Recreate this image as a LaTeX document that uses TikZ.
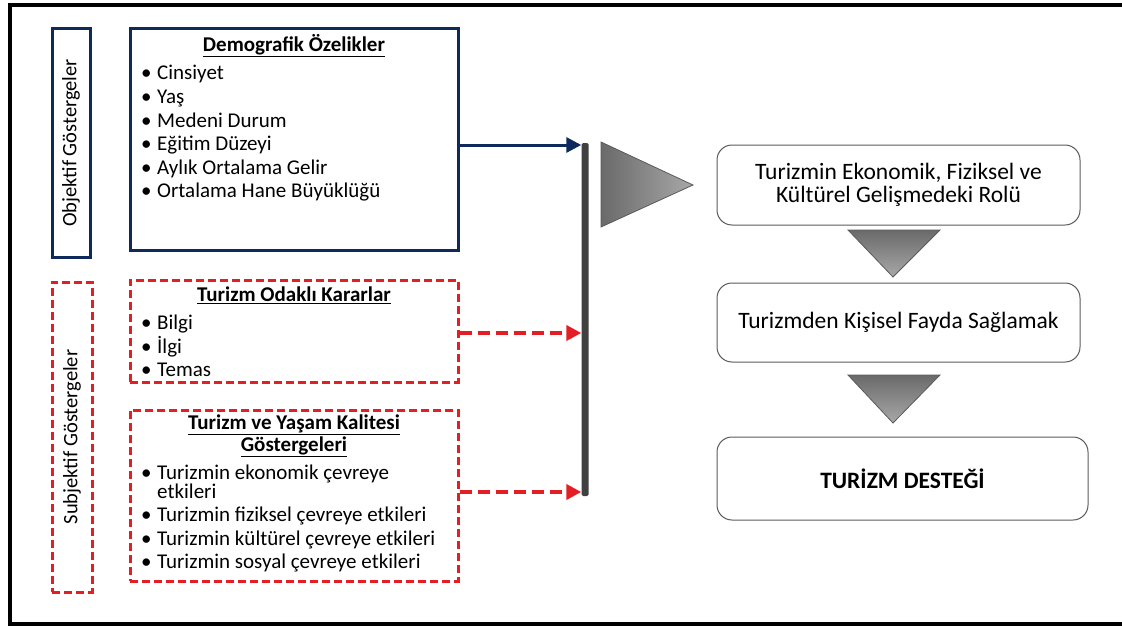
\documentclass[tikz,border=0pt]{standalone}
\usepackage{fontspec}
\setmainfont{Carlito}
\usetikzlibrary{arrows.meta}
\definecolor{navy}{HTML}{0E2A5C}
\definecolor{redd}{HTML}{E31E24}
\definecolor{bargray}{HTML}{404040}
\definecolor{edgegray}{HTML}{5A5A5A}
\definecolor{tridark}{HTML}{6A6A6A}
\definecolor{trilight}{HTML}{A8A8A8}
\newcommand{\bitem}[1]{\makebox[16pt][l]{•}#1}
\begin{document}
\begin{tikzpicture}[x=1pt,y=-1pt,
  itm/.style={anchor=base west, inner sep=0pt, font=\fontsize{21}{23}\selectfont},
  ttl/.style={anchor=base, inner sep=0pt, font=\fontsize{21}{22}\selectfont\bfseries},
  solidbox/.style={draw=navy, line width=3pt, inner sep=0pt},
  dashbox/.style={draw=redd, line width=3pt, dash pattern=on 8pt off 4pt, inner sep=0pt},
  sidelabel/.style={rotate=90, inner sep=0pt, font=\fontsize{20.5}{23}\selectfont},
  roundbox/.style={draw=edgegray, line width=1pt, rounded corners=15pt, align=center, inner sep=0pt, font=\fontsize{23.5}{22.5}\selectfont},
  bluearrow/.style={navy, line width=3pt, -{Triangle[length=15pt,width=15pt]}},
  redarrow/.style={redd, line width=4pt, dash pattern=on 12pt off 6pt, -{Triangle[length=15pt,width=15pt]}},
  downtri/.style={draw=edgegray, line width=0.8pt, top color=tridark, bottom color=trilight}
]
\useasboundingbox (0,0) rectangle (1122,626);
\clip (0,0) rectangle (1122,626);
% outer frame
\draw[line width=3.5pt] (1140,5) -- (10,5) -- (10,624) -- (1140,624);

% objective
\node[solidbox, minimum width=38pt, minimum height=228pt] (obj) at (71,143) {};
\node[sidelabel] (objl) at (obj.center) {Objektif Göstergeler};
\node[solidbox, minimum width=328pt, minimum height=221pt] (demo) at (294,139.5) {};
\node[ttl] (demot) at (294,51.5) {\underline{Demografik Özelikler}};
\foreach \t/\y [count=\i] in {Cinsiyet/79.5, Yaş/103, Medeni Durum/127, Eğitim Düzeyi/150, Aylık Ortalama Gelir/174, Ortalama Hane Büyüklüğü/197}
  \node[itm] (demo\i) at (141,\y) {\bitem{\t}};

% subjective
\node[dashbox, minimum width=40pt, minimum height=310pt] (subj) at (72,437) {};
\node[sidelabel] (subjl) at (subj.center) {Subjektif Göstergeler};
\node[dashbox, minimum width=328pt, minimum height=102pt] (odak) at (294,331) {};
\node[ttl] (odakt) at (294,301.5) {\underline{Turizm Odaklı Kararlar}};
\foreach \t/\y [count=\i] in {Bilgi/329.5, İlgi/353, Temas/376.5}
  \node[itm] (odak\i) at (141,\y) {\bitem{\t}};

\node[dashbox, minimum width=328pt, minimum height=171pt] (yasam) at (294,495.5) {};
\node[ttl] (yasamt1) at (294,429.5) {\underline{Turizm ve Yaşam Kalitesi}};
\node[ttl] (yasamt2) at (294,451.5) {\underline{Göstergeleri}};
\node[itm] (yasam1) at (141,479.5) {\bitem{Turizmin ekonomik çevreye}};
\node[itm] (yasam1b) at (157,498.5) {etkileri};
\foreach \t/\y [count=\i from 2] in {Turizmin fiziksel çevreye etkileri/521.5, Turizmin kültürel çevreye etkileri/545, Turizmin sosyal çevreye etkileri/568.5}
  \node[itm] (yasam\i) at (141,\y) {\bitem{\t}};

% bar
\node[fill=bargray, minimum width=7pt, minimum height=353pt, inner sep=0pt, rounded corners=1.5pt] (bar) at (585,319.5) {};

% arrows
\draw[bluearrow] (demo.east |- 0,145) -- (bar.west |- 0,145);
\draw[redarrow] (odak.east |- 0,333) -- (bar.west |- 0,333);
\draw[redarrow] (yasam.east |- 0,492) -- (bar.west |- 0,492);

% flag
\path[draw=edgegray, line width=0.8pt, left color=tridark, right color=trilight] (601,142) -- (601,227) -- (693,185) -- cycle;

% right boxes
\node[roundbox, minimum width=363pt, minimum height=80pt] (r1) at (898.5,185) {Turizmin Ekonomik, Fiziksel ve\\Kültürel Gelişmedeki Rolü};
\node[roundbox, minimum width=363pt, minimum height=79pt] (r2) at (898.5,322.5) {Turizmden Kişisel Fayda Sağlamak};
\node[roundbox, minimum width=371pt, minimum height=83pt] (r3) at (902.5,478.5) {\bfseries TURİZM DESTEĞİ};

\path[downtri] (848,230) -- (940,230) -- (893,277) -- cycle;
\path[downtri] (848,375) -- (940,375) -- (893,423) -- cycle;
\end{tikzpicture}
\end{document}
